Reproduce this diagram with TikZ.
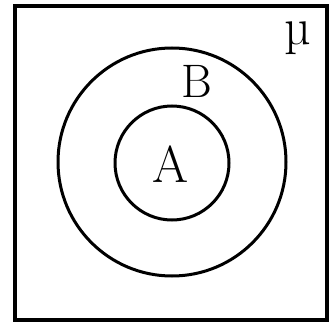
\documentclass[tikz,border=0pt]{standalone}
\usepackage{fontspec}
\usetikzlibrary{positioning}

\begin{document}
\begin{tikzpicture}[x=1pt, y=-1pt,
    frameStyle/.style={draw=black, line width=4pt},
    setStyle/.style={circle, draw=black, line width=3pt, inner sep=0pt},
    labelStyle/.style={font=\fontsize{52}{56}\selectfont, inner sep=0pt}
]
    \useasboundingbox (0,0) rectangle (332,334);

    \node[frameStyle, minimum width=312pt, minimum height=314pt, inner sep=0pt] (universe) at (171,163) {};

    \node[setStyle, minimum size=228pt] (setB) at (172,162) {};
    \node[setStyle, minimum size=114pt] (setA) at (172,163) {};

    \node[labelStyle] (labA) at (171,164) {A};
    \node[labelStyle, font=\fontsize{47}{50}\selectfont] (labB) at (197,81) {B};
    \node[labelStyle] (labMu) at (298,38) {µ};
\end{tikzpicture}
\end{document}
